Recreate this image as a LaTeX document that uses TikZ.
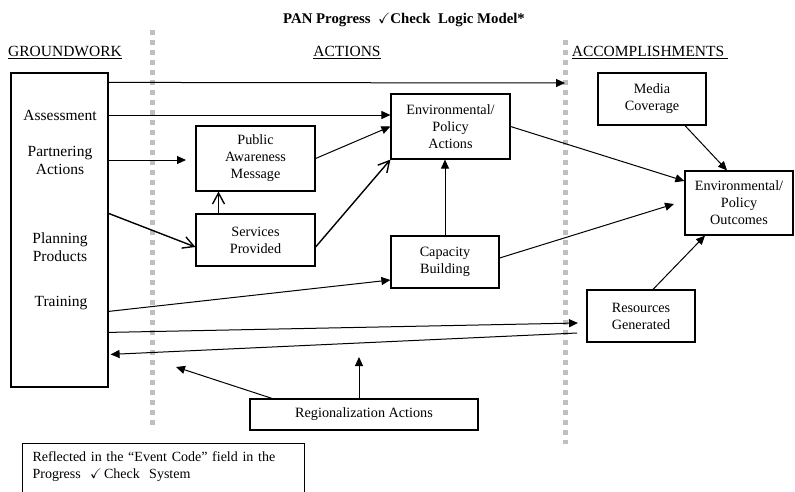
\documentclass[tikz,border=0pt]{standalone}
\usepackage{fontspec}
\setmainfont{Liberation Serif}
\usepackage{amssymb}
\usetikzlibrary{arrows.meta, positioning}

\begin{document}
\begin{tikzpicture}[x=1pt, y=-1pt, font=\fontsize{15.5}{18}\selectfont,
	box/.style={draw, line width=1.2pt, align=center, inner sep=0pt, font=\fontsize{14.2}{17}\selectfont},
	lane/.style={draw=gray!50, line width=5pt, dash pattern=on 5pt off 5pt},
	head/.style={anchor=base},
	>={Triangle[length=9pt, width=8pt]},
	link/.style={->, line width=1pt},
	open/.style={-{Straight Barb[length=11pt, width=12pt]}, line width=1.4pt}]
	\useasboundingbox (0,0) rectangle (795,491);
	% title and column heads
	\node[head, font=\bfseries\fontsize{14.8}{17}\selectfont] (title) at (404,23) {PAN Progress\ \ $\checkmark$Check\ \ Logic Model*};
	\node[head] (hgw) at (65,56) {\underline{GROUNDWORK}};
	\node[head] (hact) at (347,56) {\underline{ACTIONS}};
	\node[head] (hacc) at (650,56) {\underline{ACCOMPLISHMENTS\ }};
	\draw[lane] (152,30) -- (152,430);
	\draw[lane] (565,40) -- (565,444);
	% groundwork
	\node[box, minimum width=97pt, minimum height=314pt] (gw) at (59.5,230) {};
	\node (asmt) at (60,115) {Assessment};
	\node[align=center] (part) at (60,160) {Partnering\\Actions};
	\node[align=center] (plan) at (60,247) {Planning\\Products};
	\node (train) at (61,303) {Training};
	% actions
	\node[box, minimum width=119pt, minimum height=65pt] (pam) at (255.5,158.5) {Public\\Awareness\\Message};
	\node[box, minimum width=119pt, minimum height=52pt] (serv) at (255.5,240) {Services\\Provided};
	\node[box, minimum width=119pt, minimum height=65pt] (envact) at (450.5,126.5) {Environmental/\\Policy\\Actions};
	\node[box, minimum width=108pt, minimum height=52pt] (cap) at (445,262) {Capacity\\Building};
	\node[box, minimum width=228pt, minimum height=31pt] (reg) at (364,414.5) {Regionalization Actions};
	% accomplishments
	\node[box, minimum width=108pt, minimum height=52pt] (media) at (652,99) {Media\\Coverage};
	\node[box, minimum width=108pt, minimum height=64pt] (outc) at (739,203) {Environmental/\\Policy\\Outcomes};
	\node[box, minimum width=108pt, minimum height=52pt] (res) at (641,316) {Resources\\Generated};
	\node[box, anchor=north west, text width=262pt, inner xsep=10pt, inner ysep=8pt, align=left, font=\fontsize{14}{17}\selectfont] (note) at (22,443)
		{Reflected in the ``Event Code'' field in the\\Progress\ \ $\checkmark$\,Check\ \ System\rule[-40pt]{0pt}{0pt}};
	% free ends
	\coordinate (topend) at (565,83);
	\coordinate (partend) at (186,160);
	\coordinate (capend) at (674,204);
	\coordinate (resin) at (578,323);
	\coordinate (retstart) at (577,333);
	\coordinate (regend) at (176,367);
	\coordinate (regup) at (359,357);
	% connectors
	\draw[link] ([yshift=-10pt]gw.north east) -- (topend);
	\draw[link] (asmt -| gw.east) -- (asmt -| envact.west);
	\draw[link] (part -| gw.east) -- (partend);
	\draw[open] ([yshift=-141pt]gw.north east) -- ([yshift=-7pt]serv.west);
	\draw[open] ([xshift=-37pt]serv.north) -- ([xshift=-37pt]pam.south);
	\draw[link] (pam.east) -- (envact.west);
	\draw[open] ([yshift=-7pt]serv.east) -- (envact.south west);
	\draw[link] (cap.north) -- (envact.south -| cap.north);
	\draw[link] ([yshift=-239pt]gw.north east) -- ([yshift=-18pt]cap.west);
	\draw[link] ([yshift=4pt]cap.east) -- (capend);
	\draw[link] (envact.east) -- ([yshift=22pt]outc.west);
	\draw[link] ([xshift=33pt]media.south) -- ([xshift=-12pt]outc.north);
	\draw[link] ([xshift=12pt]res.north) -- ([xshift=-34pt]outc.south);
	\draw[link] ([yshift=-260pt]gw.north east) -- (resin);
	\draw[link] (retstart) -- ([yshift=-282pt, xshift=2pt]gw.north east);
	\draw[link] ([xshift=-92pt]reg.north) -- (regend);
	\draw[link] ([xshift=-5pt]reg.north) -- (regup);
\end{tikzpicture}
\end{document}
